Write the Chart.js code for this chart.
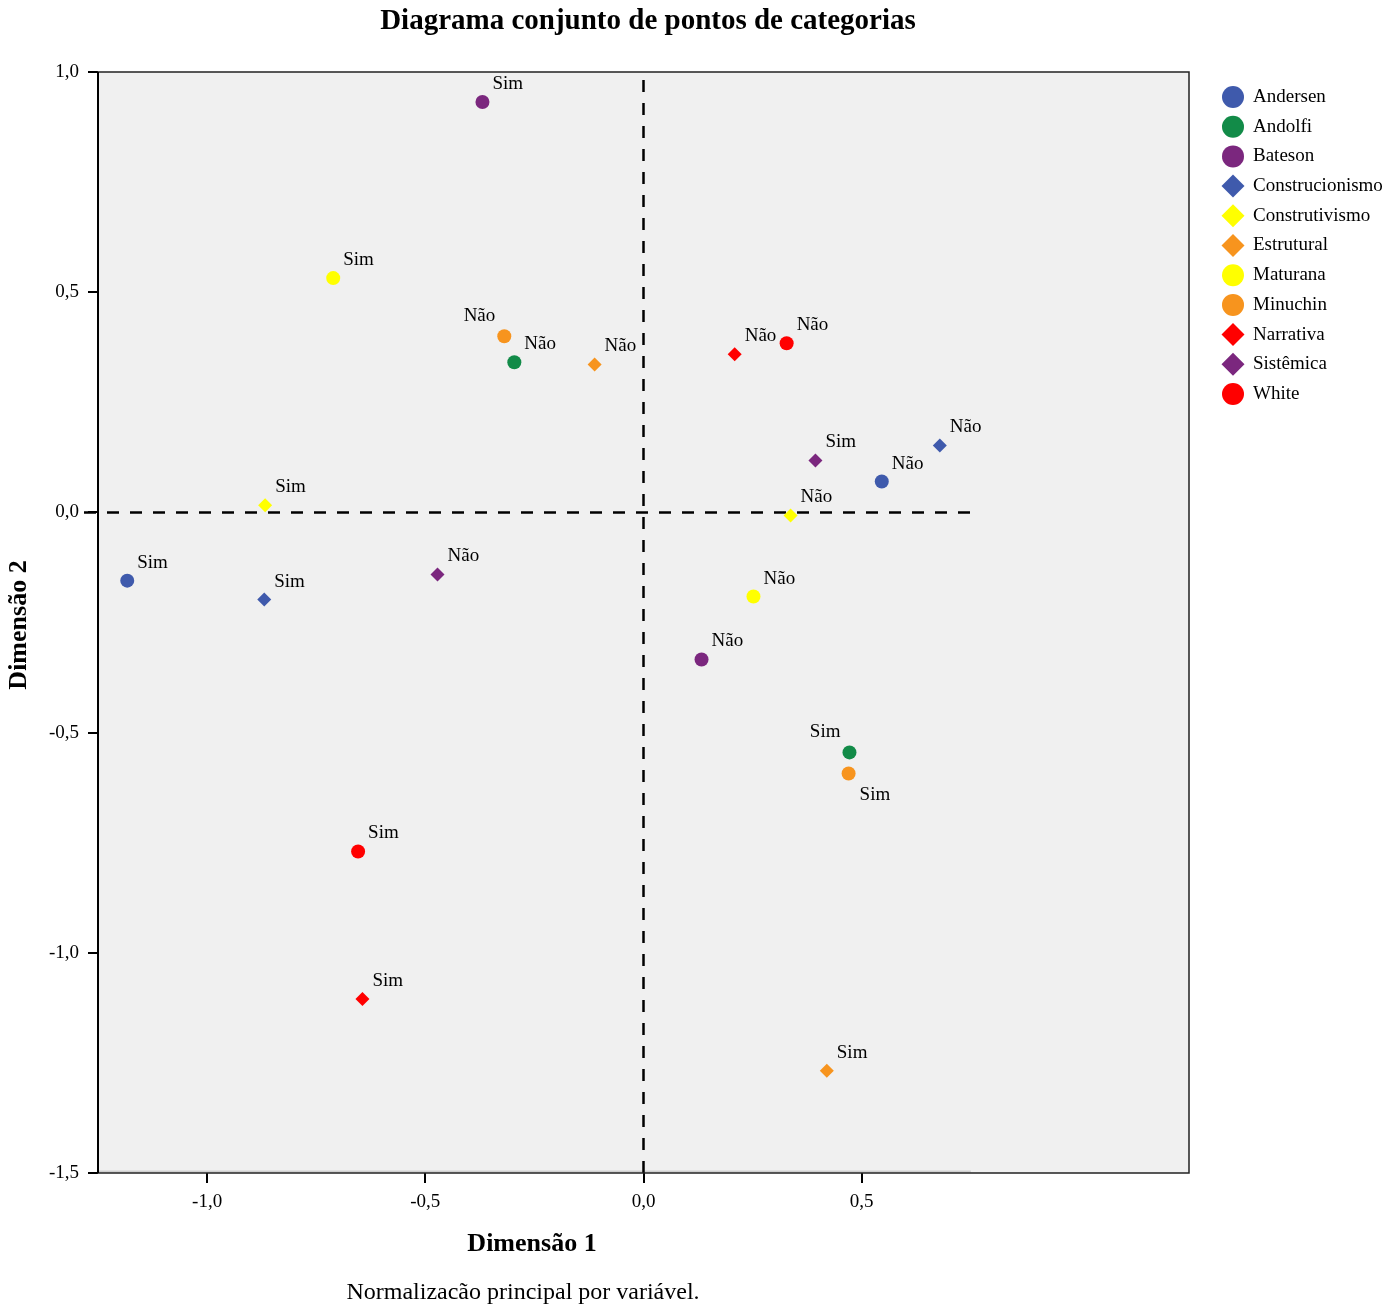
<!DOCTYPE html>
<html><head><meta charset="utf-8">
<script src="https://cdn.jsdelivr.net/npm/chart.js@4/dist/chart.umd.min.js"></script>
<style>html,body{margin:0;padding:0;background:#fff}#wrap{width:1399px;height:1306px}</style>
</head><body><div id="wrap"><canvas id="c" width="1399" height="1306"></canvas></div>
<script>
// ---- Data ----
const categories = ['Andersen','Andolfi','Bateson','Construcionismo','Construtivismo','Estrutural','Maturana','Minuchin','Narrativa','Sistêmica','White'];
const levelNames = ['Sim','Não'];
const simDim1 = [-1.183, 0.472, -0.369, -0.869, -0.867, 0.420, -0.711, 0.470, -0.644, 0.394, -0.654];
const simDim2 = [-0.155, -0.545, 0.932, -0.198, 0.016, -1.268, 0.532, -0.593, -1.105, 0.118, -0.770];
const naoDim1 = [0.546, -0.296, 0.133, 0.679, 0.337, -0.112, 0.252, -0.319, 0.209, -0.472, 0.328];
const naoDim2 = [0.070, 0.341, -0.334, 0.152, -0.007, 0.336, -0.191, 0.400, 0.359, -0.141, 0.384];
const xTickValues = [-1.0, -0.5, 0.0, 0.5];
const yTickValues = [1.0, 0.5, 0.0, -0.5, -1.0, -1.5];

// ---- Styles ----
const markerShapes = ['circle','circle','circle','rectRot','rectRot','rectRot','circle','circle','rectRot','rectRot','circle'];
const seriesColors = ['#3F5AAC','#128B48','#7B277E','#3F5AAC','#FFFF00','#F7941E','#FFFF00','#F7941E','#FF0000','#7B277E','#FF0000'];
// label placement exceptions: [category, level] -> position
const labelPlacement = {'Minuchin|Não':'ul','Andolfi|Sim':'ul','Minuchin|Sim':'dr'};
const SERIF = '"Liberation Serif", "Times New Roman", serif';

const datasets = categories.map((name, i) => ({
  label: name,
  data: [{x: simDim1[i], y: simDim2[i]}, {x: naoDim1[i], y: naoDim2[i]}],
  pointStyle: markerShapes[i],
  pointRadius: 7,
  pointHoverRadius: 7,
  backgroundColor: seriesColors[i],
  borderColor: seriesColors[i],
  borderWidth: 0
}));

const fmt = v => v.toFixed(1).replace('.', ',');

const decor = {
  id: 'decor',
  beforeDraw(chart) {
    const {ctx, chartArea: a} = chart;
    ctx.save();
    ctx.fillStyle = '#F0F0F0';
    ctx.fillRect(a.left, a.top, a.right - a.left, a.bottom - a.top);
    ctx.restore();
  },
  beforeDatasetsDraw(chart) {
    const {ctx, chartArea: a, scales: {x, y}} = chart;
    ctx.save();
    const x0 = x.getPixelForValue(0), y0 = y.getPixelForValue(0), xEnd = x.getPixelForValue(0.75);
    // light axis line along bottom
    ctx.strokeStyle = '#CFCFCF';
    ctx.lineWidth = 2;
    ctx.beginPath(); ctx.moveTo(a.left, a.bottom - 1.5); ctx.lineTo(xEnd, a.bottom - 1.5); ctx.stroke();
    // dashed reference lines
    ctx.strokeStyle = '#000';
    ctx.lineWidth = 2.5;
    ctx.setLineDash([12, 11]);
    ctx.beginPath(); ctx.moveTo(x0, a.top + 8); ctx.lineTo(x0, a.bottom); ctx.stroke();
    ctx.beginPath(); ctx.moveTo(a.left - 14, y0); ctx.lineTo(xEnd, y0); ctx.stroke();
    ctx.setLineDash([]);
    // frame
    ctx.strokeStyle = '#222';
    ctx.lineWidth = 1.5;
    ctx.strokeRect(a.left, a.top, a.right - a.left, a.bottom - a.top);
    ctx.strokeStyle = '#000';
    ctx.lineWidth = 2;
    ctx.beginPath(); ctx.moveTo(a.left, a.top); ctx.lineTo(a.left, a.bottom); ctx.stroke();
    ctx.restore();
  },
  afterDraw(chart) {
    const {ctx} = chart;
    ctx.save();
    ctx.fillStyle = '#000';
    // title
    ctx.font = 'bold 29px ' + SERIF;
    ctx.textAlign = 'center'; ctx.textBaseline = 'middle';
    ctx.fillText('Diagrama conjunto de pontos de categorias', 648, 22);
    // axis titles
    ctx.font = 'bold 26px ' + SERIF;
    ctx.fillText('Dimensão 1', 532, 1244);
    ctx.save();
    ctx.translate(19, 625); ctx.rotate(-Math.PI / 2);
    ctx.fillText('Dimensão 2', 0, 0);
    ctx.restore();
    // note
    ctx.font = '24px ' + SERIF;
    ctx.fillText('Normalizacão principal por variável.', 523, 1293);
    // data labels
    ctx.font = '19px ' + SERIF;
    chart.data.datasets.forEach((ds, di) => {
      const meta = chart.getDatasetMeta(di);
      meta.data.forEach((pt, pi) => {
        const txt = levelNames[pi];
        const pos = labelPlacement[ds.label + '|' + txt] || 'ur';
        let tx, ty;
        if (pos === 'ul') { ctx.textAlign = 'right'; tx = pt.x - 9; ty = pt.y - 20; }
        else if (pos === 'dr') { ctx.textAlign = 'left'; tx = pt.x + 11; ty = pt.y + 21; }
        else { ctx.textAlign = 'left'; tx = pt.x + 10; ty = pt.y - 18; }
        ctx.fillText(txt, tx, ty);
      });
    });
    // legend
    ctx.font = '19px ' + SERIF;
    ctx.textAlign = 'left';
    categories.forEach((name, i) => {
      const cy = 97 + i * 29.7, cx = 1233;
      ctx.fillStyle = seriesColors[i];
      ctx.beginPath();
      if (markerShapes[i] === 'circle') ctx.arc(cx, cy, 11, 0, Math.PI * 2);
      else { ctx.moveTo(cx - 11.5, cy); ctx.lineTo(cx, cy - 11.5); ctx.lineTo(cx + 11.5, cy); ctx.lineTo(cx, cy + 11.5); ctx.closePath(); }
      ctx.fill();
      ctx.fillStyle = '#000';
      ctx.fillText(name, 1253, cy);
    });
    ctx.restore();
  }
};

new Chart(document.getElementById('c'), {
  type: 'scatter',
  data: { datasets },
  options: {
    responsive: false,
    animation: false,
    events: [],
    layout: { padding: { top: 72, right: 210, left: 0, bottom: 0 } },
    plugins: { legend: { display: false }, title: { display: false }, tooltip: { enabled: false } },
    scales: {
      x: {
        type: 'linear', min: -1.25, max: 1.25,
        afterBuildTicks: s => { s.ticks = xTickValues.map(v => ({value: v})); },
        afterFit: s => { s.height = 133; },
        border: { display: false },
        grid: { drawOnChartArea: false, drawTicks: true, tickLength: 10, lineWidth: 2, color: '#000' },
        ticks: { color: '#000', padding: 8, maxRotation: 0, autoSkip: false, font: { family: SERIF, size: 19 }, callback: v => fmt(v) }
      },
      y: {
        type: 'linear', min: -1.5, max: 1.0,
        afterBuildTicks: s => { s.ticks = yTickValues.map(v => ({value: v})); },
        afterFit: s => { s.width = 98; },
        border: { display: false },
        grid: { drawOnChartArea: false, drawTicks: true, tickLength: 10, lineWidth: 2, color: '#000' },
        ticks: { color: '#000', padding: 9, autoSkip: false, font: { family: SERIF, size: 19 }, callback: v => fmt(v) }
      }
    }
  },
  plugins: [decor]
});
</script></body></html>
